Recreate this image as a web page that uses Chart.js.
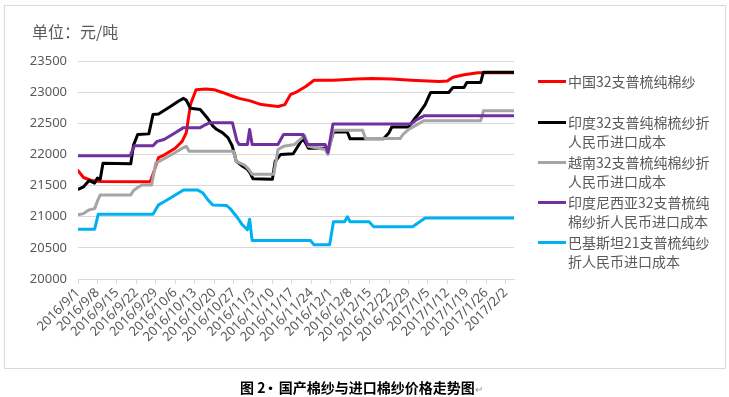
<!DOCTYPE html>
<html>
<head>
<meta charset="utf-8">
<script src="https://cdn.jsdelivr.net/npm/chart.js@4/dist/chart.umd.min.js"></script>
<style>
  body { margin: 0; background: #fff; }
  #wrap { position: relative; width: 729px; height: 397px; overflow: hidden; font-family: 'Noto Sans', 'Noto Sans CJK SC', sans-serif; }
  #frame { position: absolute; left: 4px; top: 5px; width: 720px; height: 362px; border: 1px solid #d9d9d9; }
  #chart { position: absolute; left: 0; top: 0; }
  #unit { position: absolute; left: 32px; top: 19px; font-size: 16px; color: #595959; font-family: 'Noto Sans CJK SC', sans-serif; }
  .leg { position: absolute; left: 538px; font-size: 14px; line-height: 19px; color: #595959; font-family: 'Noto Sans CJK SC', sans-serif; }
  .leg i { position: absolute; left: 0; top: 8px; width: 28px; height: 3px; }
  .leg span { display: block; margin-left: 30px; white-space: nowrap; }
  #caption { position: absolute; left: 240px; top: 377px; font-size: 14px; font-weight: bold; color: #000; font-family: 'Noto Sans CJK SC', sans-serif; white-space: nowrap; }
  #caption small { font-weight: normal; font-size: 10px; color: #999; }
</style>
</head>
<body>
<div id="wrap">
  <div id="frame"></div>
  <canvas id="chart" width="729" height="397"></canvas>
  <div id="unit">单位：元/吨</div>
  <div id="legend"></div>
  <div id="caption">图 2<span style="margin:0 -2px">·</span> 国产棉纱与进口棉纱价格走势图<small>↵</small></div>
</div>
<script>
// x = days since 2016/9/1, y = 元/吨
const tickLabels = ['2016/9/1', '2016/9/8', '2016/9/15', '2016/9/22', '2016/9/29', '2016/10/6', '2016/10/13',
    '2016/10/20', '2016/10/27', '2016/11/3', '2016/11/10', '2016/11/17', '2016/11/24', '2016/12/1', '2016/12/8',
    '2016/12/15', '2016/12/22', '2016/12/29', '2017/1/5', '2017/1/12', '2017/1/19', '2017/1/26', '2017/2/2'];

const seriesNames = [
    ['中国32支普梳纯棉纱'],
    ['印度32支普纯棉梳纱折', '人民币进口成本'],
    ['越南32支普梳纯棉纱折', '人民币进口成本'],
    ['印度尼西亚32支普梳纯', '棉纱折人民币进口成本'],
    ['巴基斯坦21支普梳纯纱', '折人民币进口成本']
];
const seriesColors = ['#ff0000', '#000000', '#a5a5a5', '#7030a0', '#00b0f0'];

const chinaData = [[0,21740],[2,21630],[5,21580],[8,21565],[26,21560],[27,21680],[29,21950],[31,21990],[35,22100],
    [37.5,22210],[39,22350],[40.5,22800],[42.5,23040],[46,23050],[49,23040],[52,22995],[56,22930],[58,22900],[62,22860],
    [66,22800],[72,22770],[74.5,22800],[76.5,22960],[79,23010],[82,23090],[85,23190],[92,23190],[100,23210],[106,23220],
    [113,23210],[120,23190],[130,23170],[133,23180],[135,23240],[139,23280],[144,23310],[157,23310]];

const indiaData = [[0,21440],[2,21480],[4,21580],[6,21540],[7,21620],[8,21600],[9,21860],[19,21850],[20,22150],
    [21.5,22320],[25.5,22330],[27,22640],[29,22650],[33,22760],[36,22850],[38,22900],[39,22870],[40.5,22740],[44,22720],
    [46.5,22590],[48.5,22460],[50,22400],[52,22350],[54,22270],[55.5,22140],[57,21890],[59,21820],[61,21760],[62,21700],
    [63,21610],[70,21600],[71,21890],[73,22000],[77.5,22010],[81,22260],[83,22100],[89,22100],[90,22060],[92,22360],
    [97,22360],[98,22250],[110,22250],[112,22350],[113,22440],[119,22440],[121,22560],[123,22670],[125,22800],
    [127,22995],[133.5,22995],[135,23075],[139,23075],[140,23156],[145,23156],[146,23320],[157,23320]];

const vietnamData = [[0,21030],[2,21050],[4,21110],[6,21130],[7,21250],[8,21350],[19,21350],[20,21420],[21.5,21470],
    [23,21510],[26.5,21510],[28,21860],[31,21930],[35,22030],[38,22110],[39,22130],[40,22050],[56,22050],[57,21890],
    [60,21830],[61.5,21760],[62.7,21680],[70.5,21680],[72,22080],[74,22130],[78,22160],[80,22240],[81.5,22310],
    [83,22130],[89,22080],[90,22000],[92,22390],[102.5,22390],[103.5,22255],[116,22255],[117,22320],[119,22400],
    [121,22450],[124.5,22540],[145,22540],[146,22700],[157,22700]];

const indonesiaData = [[0,21980],[18.8,21980],[20.3,22140],[27,22140],[28.5,22210],[31,22240],[34,22320],[38,22430],
    [44,22430],[46,22480],[47.5,22510],[55.6,22510],[57.2,22220],[58,22160],[61,22160],[61.8,22400],[62.7,22160],
    [72,22160],[74,22320],[81,22320],[82.6,22160],[89,22160],[90,22030],[91.8,22490],[120,22490],[122,22560],
    [124.6,22620],[157,22620]];

const pakistanData = [[0,20800],[6,20800],[7.3,21040],[27,21040],[29,21190],[31,21240],[34,21320],[38,21430],[43,21430],
    [45,21380],[47,21260],[48.5,21190],[53.5,21180],[55,21120],[57.5,20980],[59,20880],[61,20790],[61.8,20960],
    [62.7,20620],[83.7,20620],[85,20548],[90.6,20548],[92,20920],[96,20920],[97,21000],[98,20920],[104.8,20920],
    [106.5,20840],[120.5,20840],[125,20978],[157,20978]];

const allData = [chinaData, indiaData, vietnamData, indonesiaData, pakistanData];

const legendBox = document.getElementById('legend');
const legendTops = [72, 113, 153, 193, 233];
seriesNames.forEach((lines, i) => {
    const item = document.createElement('div');
    item.className = 'leg';
    item.style.top = legendTops[i] + 'px';
    item.innerHTML = `<i style="background:${seriesColors[i]}"></i>` + lines.map(t => `<span>${t}</span>`).join('');
    legendBox.appendChild(item);
});

const ctx = document.getElementById('chart').getContext('2d');
new Chart(ctx, {
    type: 'line',
    data: {
        datasets: allData.map((arr, i) => ({
            label: seriesNames[i].join(''),
            data: arr.map(p => ({ x: p[0], y: p[1] })),
            borderColor: seriesColors[i],
            backgroundColor: seriesColors[i],
            borderWidth: 3,
            pointRadius: 0,
            tension: 0,
            borderJoinStyle: 'round',
            borderCapStyle: 'round',
            order: 4 - i
        }))
    },
    options: {
        responsive: false,
        animation: false,
        layout: { padding: { left: 0, top: 61, right: 215, bottom: 0 } },
        plugins: { legend: { display: false }, tooltip: { enabled: false } },
        scales: {
            x: {
                type: 'linear',
                min: 0,
                max: 157,
                afterFit: (scale) => { scale.height = 118; },
                grid: { drawOnChartArea: false, drawTicks: true, tickLength: 5, color: '#d9d9d9' },
                border: { color: '#d9d9d9' },
                ticks: {
                    stepSize: 7,
                    includeBounds: false,
                    autoSkip: false,
                    minRotation: 45,
                    maxRotation: 45,
                    padding: 1,
                    color: '#595959',
                    font: { family: 'Noto Sans', size: 13 },
                    callback: (v) => tickLabels[v / 7] || ''
                }
            },
            y: {
                min: 20000,
                max: 23500,
                afterFit: (scale) => { scale.width = 78; },
                grid: { color: '#d9d9d9', drawTicks: false },
                border: { display: false },
                ticks: {
                    stepSize: 500,
                    padding: 11,
                    color: '#595959',
                    font: { family: 'Noto Sans', size: 13 },
                    callback: (v) => String(v)
                }
            }
        }
    }
});
</script>
</body>
</html>
